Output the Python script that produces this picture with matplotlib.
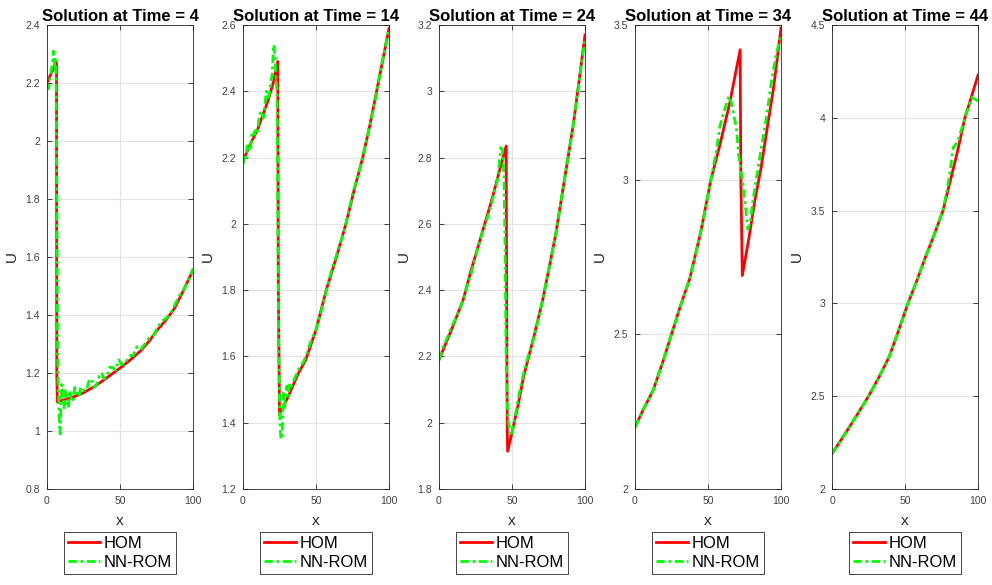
import matplotlib
matplotlib.use("Agg")
from matplotlib import pyplot as plt

plt.rcParams['font.family'] = ['Liberation Sans', 'DejaVu Sans']

times = [4, 14, 24, 34, 44]

# HOM (red) and NN-ROM (green) profiles
x_hom_4 = [0, 3, 6.5, 6.7, 7.1, 12, 18, 25, 32, 40, 50, 57, 64, 70, 75, 81, 87, 93, 100]
u_hom_4 = [2.20, 2.235, 2.27, 1.2, 1.10, 1.108, 1.117, 1.132, 1.152, 1.18, 1.217, 1.245,
           1.276, 1.31, 1.345, 1.38, 1.42, 1.48, 1.555]
x_nn_4 = [0, 1, 2, 3.2, 3.8, 4.4, 5, 5.6, 6.2, 6.8, 7.2, 7.6, 8, 8.5, 9, 9.5, 10.1, 10.8,
          11.7, 12.3, 13, 13.8, 14.7, 15.4, 16.1, 17, 17.9, 19, 20.2, 21, 22, 23, 24.3,
          25.5, 27, 28.5, 30.5, 32, 34, 35.8, 37.5, 39, 41, 43, 44.5, 47, 49, 51, 53.5,
          55, 57, 59, 61.4, 64, 67, 70, 73, 76, 79, 82, 85, 88, 91, 94, 97, 100]
u_nn_4 = [2.19, 2.18, 2.21, 2.25, 2.27, 2.31, 2.26, 2.29, 2.23, 1.8, 1.3, 1.15, 1.1, 1.02,
          0.99, 1.08, 1.16, 1.12, 1.08, 1.14, 1.13, 1.09, 1.08, 1.14, 1.13, 1.10, 1.11,
          1.15, 1.14, 1.12, 1.12, 1.15, 1.15, 1.14, 1.14, 1.17, 1.18, 1.15, 1.16, 1.19,
          1.2, 1.18, 1.19, 1.22, 1.22, 1.21, 1.245, 1.23, 1.23, 1.25, 1.26, 1.26, 1.29,
          1.28, 1.3, 1.32, 1.33, 1.36, 1.38, 1.39, 1.41, 1.44, 1.47, 1.49, 1.52, 1.56]

x_hom_14 = [0, 5, 10, 17, 21, 23.8, 24.2, 25, 29, 33, 38, 43, 50, 57, 64, 70.5, 76, 82,
            87, 91.5, 96, 100]
u_hom_14 = [2.19, 2.24, 2.285, 2.37, 2.43, 2.49, 1.8, 1.425, 1.46, 1.5, 1.55, 1.59, 1.68,
            1.8, 1.9, 2.0, 2.1, 2.2, 2.3, 2.4, 2.5, 2.59]
x_nn_14 = [0, 1, 2, 3, 4, 5, 6, 7, 8, 9, 10, 11, 12, 13, 14, 15, 16, 17, 18, 19, 20, 20.5,
           21.1, 22, 22.7, 23.3, 23.8, 24.3, 25, 25.5, 26, 26.9, 27.5, 28.3, 29, 30, 31,
           32, 33, 35, 37, 39, 41, 43, 46, 50, 55, 60, 65, 70, 75, 80, 85, 90, 95, 100]
u_nn_14 = [2.18, 2.21, 2.2, 2.24, 2.23, 2.22, 2.27, 2.28, 2.27, 2.29, 2.28, 2.32, 2.34,
           2.33, 2.32, 2.36, 2.4, 2.38, 2.39, 2.43, 2.45, 2.5, 2.54, 2.5, 2.44, 2.4, 2.1,
           1.7, 1.45, 1.38, 1.35, 1.36, 1.49, 1.44, 1.47, 1.51, 1.48, 1.52, 1.51, 1.53,
           1.55, 1.57, 1.58, 1.6, 1.64, 1.68, 1.76, 1.85, 1.92, 1.99, 2.09, 2.165, 2.26,
           2.36, 2.48, 2.59]

x_hom_24 = [0, 8.5, 16.5, 22, 28, 36, 42, 46, 46.4, 46.7, 47, 50, 54, 58, 65, 71, 76, 80,
            84, 88, 92, 95, 100]
u_hom_24 = [2.19, 2.28, 2.37, 2.46, 2.55, 2.67, 2.77, 2.835, 2.3, 2.0, 1.914, 1.97, 2.05,
            2.14, 2.26, 2.37, 2.48, 2.57, 2.68, 2.79, 2.9, 3.0, 3.17]
x_nn_24 = [0, 2, 4, 6, 8.5, 11, 14, 16.5, 19, 22, 25, 28, 31, 34, 36, 38, 40, 42.4, 43.5,
           44.5, 45.3, 46, 46.8, 47.5, 48.5, 49.5, 51, 53, 55, 58, 61, 64, 68, 71, 75, 80,
           84, 88, 92, 95, 100]
u_nn_24 = [2.19, 2.22, 2.24, 2.26, 2.29, 2.31, 2.34, 2.37, 2.41, 2.45, 2.5, 2.55, 2.59,
           2.63, 2.66, 2.7, 2.73, 2.83, 2.82, 2.75, 2.5, 2.2, 2.05, 2.0, 1.98, 1.96, 1.99,
           2.04, 2.09, 2.15, 2.2, 2.24, 2.31, 2.37, 2.46, 2.57, 2.68, 2.79, 2.9, 3.0, 3.16]

x_hom_34 = [0, 6, 12.5, 19, 25, 31, 37.5, 45, 52, 58, 65, 72, 72.5, 73.5, 78, 82, 86.4, 90,
            95, 100]
u_hom_34 = [2.2, 2.26, 2.32, 2.41, 2.5, 2.59, 2.68, 2.83, 3.0, 3.11, 3.25, 3.42, 3.0, 2.69,
            2.81, 2.93, 3.04, 3.15, 3.3, 3.49]
x_nn_34 = [0, 6, 12.5, 19, 25, 31, 37.5, 45, 52, 56, 58, 61, 64.3, 66, 68, 69.4, 71, 73.2,
           75.5, 77.3, 79, 80.7, 83, 86.4, 90, 93.2, 96.5, 100]
u_nn_34 = [2.2, 2.26, 2.32, 2.41, 2.5, 2.59, 2.68, 2.83, 3.0, 3.1, 3.17, 3.22, 3.27, 3.25,
           3.2, 3.17, 3.08, 3.01, 2.92, 2.84, 2.86, 2.93, 3.0, 3.1, 3.2, 3.31, 3.4, 3.47]

x_hom_44 = [0, 5, 10, 18, 25, 32, 39, 45, 52, 58, 64, 70, 76, 81, 86, 91, 95, 100]
u_hom_44 = [2.19, 2.25, 2.31, 2.41, 2.5, 2.6, 2.71, 2.84, 3.0, 3.12, 3.25, 3.37, 3.5, 3.66,
            3.82, 4.0, 4.1, 4.23]
x_nn_44 = [0, 5, 10, 18, 25, 32, 39, 45, 52, 58, 64, 70, 76, 79, 81, 83, 86, 90, 93, 96,
           100]
u_nn_44 = [2.19, 2.25, 2.31, 2.41, 2.5, 2.6, 2.71, 2.84, 3.0, 3.12, 3.25, 3.37, 3.5, 3.62,
           3.72, 3.84, 3.87, 3.97, 4.05, 4.11, 4.09]

hom_x = [x_hom_4, x_hom_14, x_hom_24, x_hom_34, x_hom_44]
hom_u = [u_hom_4, u_hom_14, u_hom_24, u_hom_34, u_hom_44]
nn_x = [x_nn_4, x_nn_14, x_nn_24, x_nn_34, x_nn_44]
nn_u = [u_nn_4, u_nn_14, u_nn_24, u_nn_34, u_nn_44]

ylims = [(0.8, 2.4), (1.2, 2.6), (1.8, 3.2), (2, 3.5), (2, 4.5)]
yticks = [[0.8, 1, 1.2, 1.4, 1.6, 1.8, 2, 2.2, 2.4],
          [1.2, 1.4, 1.6, 1.8, 2, 2.2, 2.4, 2.6],
          [1.8, 2, 2.2, 2.4, 2.6, 2.8, 3, 3.2],
          [2, 2.5, 3, 3.5],
          [2, 2.5, 3, 3.5, 4, 4.5]]

W, H = 992, 585
fig = plt.figure(figsize=(W / 100, H / 100), dpi=100)
lefts = [47, 243, 439, 635, 832]

for i in range(5):
    ax = fig.add_axes([lefts[i] / W, (H - 489) / H, 146 / W, 464 / H])
    ax.plot(hom_x[i], hom_u[i], color='#ff0000', lw=2, label='HOM')
    ax.plot(nn_x[i], nn_u[i], color='#00ff00', lw=2, dashes=(3, 1.3, 1, 1.3),
            label='NN-ROM')
    ax.set_xlim(0, 100)
    ax.set_ylim(*ylims[i])
    ax.set_xticks([0, 50, 100])
    ax.set_yticks(yticks[i])
    ax.set_yticklabels(['%g' % v for v in yticks[i]])
    ax.grid(True, color='#e3e3e3', lw=0.8)
    ax.set_axisbelow(True)
    ax.tick_params(direction='in', length=3.3, width=0.6, top=True, right=True,
                   labelsize=7.5, labelcolor='#404040', color='#262626', pad=5)
    for s in ax.spines.values():
        s.set_color('#262626')
        s.set_linewidth(0.6)
    ax.set_title('Solution at Time = %d' % times[i], fontsize=12, fontweight='bold', pad=3)
    ax.set_xlabel('x', fontsize=11, color='#262626', labelpad=6)
    ax.set_ylabel('U', fontsize=11, color='#262626', labelpad=5)
    leg = ax.legend(loc='upper center', bbox_to_anchor=(0.5, -0.093), fontsize=12,
                    handlelength=1.9, handletextpad=0.2, labelspacing=0.2,
                    borderpad=0.25, borderaxespad=0, fancybox=False, framealpha=1)
    leg.get_frame().set_edgecolor('#262626')
    leg.get_frame().set_linewidth(0.6)

fig.savefig('out.png', dpi=100)
